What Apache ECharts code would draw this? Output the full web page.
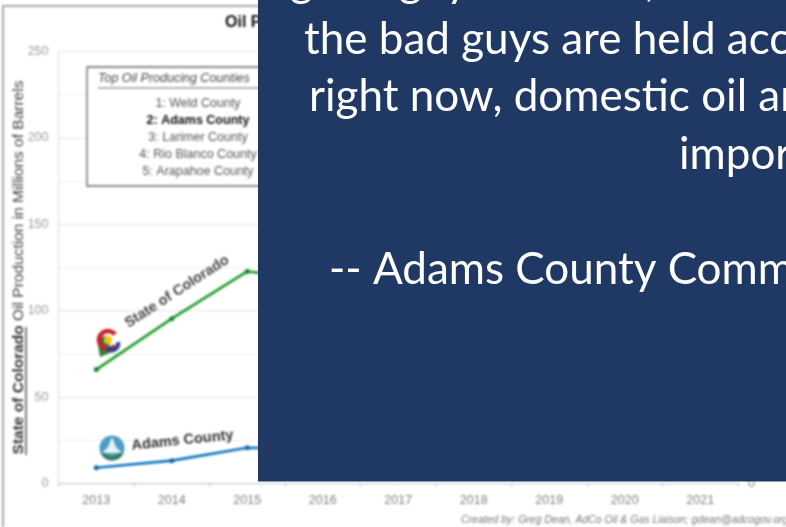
<!DOCTYPE html>
<html><head><meta charset="utf-8">
<style>html,body{margin:0;padding:0;background:#fff;overflow:hidden}
#c{position:absolute;left:0;top:0;width:786px;height:527px;filter:blur(0.85px)}
#p{position:absolute;left:0;top:0;width:786px;height:527px;filter:blur(0.45px)}</style>
<script src="https://cdn.jsdelivr.net/npm/echarts@6/dist/echarts.min.js"></script>
</head><body><div id="c"></div><div id="p"></div>
<script>
const years = ['2013','2014','2015','2016','2017','2018','2019','2020','2021'];
const colorado = [65.9, 95.4, 122.7, 118, null, null, null, null, null];
const adams = [9.1, 13.2, 20.7, 20, null, null, null, null, null];
const counties = ['1: Weld County','2: Adams County','3: Larimer County','4: Rio Blanco County','5: Arapahoe County'];
const quoteLines = [
  ['the bad guys are held accountable,', 304, 53],
  ['right now, domestic oil and gas', 309, 110],
  ['important', 679, 168],
  ['-- Adams County Commissioner', 329, 283]
];
const clippedGlyphs = [['g',290],['g',399],['y',446],[',',645]];
const creditLine = 'Created by: Greg Dean, AdCo Oil & Gas Liaison; gdean@adcogov.org';
const chart = echarts.init(document.getElementById('c'));
const overlay = echarts.init(document.getElementById('p'));
const F = 'Liberation Sans';
const panel = '#203864';
const Q = 'Lato';
const QS = 44;
const QB = 35;
const g = [
  {type:'rect',z:0,shape:{x:3,y:6,width:800,height:540},style:{fill:'#fff',stroke:'#a8a8a8',lineWidth:2}},
  {type:'text',z:5,style:{x:225,y:15,text:'Oil Production',font:'bold 16px '+F,fill:'#111'}},
  {type:'rect',z:6,shape:{x:87,y:67,width:230,height:119},style:{fill:'#fff',stroke:'#666',lineWidth:1.4}},
  {type:'text',z:7,style:{x:98,y:72,text:'Top Oil Producing Counties',font:'italic 12.5px '+F,fill:'#444'}},
  {type:'line',z:7,shape:{x1:98,y1:88,x2:300,y2:88},style:{stroke:'#666',lineWidth:1}},
  ...counties.map((t,i)=>({type:'text',z:7,style:{x:198,y:97+i*17,text:t,align:'center',
      font:(i==1?'bold ':'')+'12.5px '+F,fill:i==1?'#111':'#555'}})),
  {type:'line',z:7,shape:{x1:26,y1:455,x2:26,y2:327},style:{stroke:'#333',lineWidth:1.3}},
  // Colorado logo
  {type:'polygon',z:7,shape:{points:[[97,338],[106,336],[112,352],[100,357]]},style:{fill:'#2e7d3a'}},
  {type:'arc',z:8,shape:{cx:108,cy:340,r:9,startAngle:0.7,endAngle:5.6},style:{stroke:'#c8232c',fill:null,lineWidth:4.5}},
  {type:'circle',z:9,shape:{cx:108,cy:340,r:4},style:{fill:'#f4c20d'}},
  {type:'arc',z:9,shape:{cx:112,cy:344,r:6,startAngle:-0.3,endAngle:2.4},style:{stroke:'#26408f',fill:null,lineWidth:4.5}},
  // Adams logo
  {type:'circle',z:7,shape:{cx:112,cy:448,r:12.5},style:{fill:'#4a9cc7'}},
  {type:'arc',z:8,shape:{cx:112,cy:448,r:10.5,startAngle:0.45,endAngle:2.7},style:{stroke:'#2f7d5a',fill:null,lineWidth:4}},
  {type:'polygon',z:8,shape:{points:[[112,437],[116,447],[122,453],[102,453],[108,447]]},style:{fill:'#e8f1f4'}},
  {type:'text',z:7,style:{x:461,y:515,text:creditLine,font:'italic 10.5px '+F,fill:'#777'}}
];
chart.setOption({
  animation:false,
  backgroundColor:'#fff',
  grid:{left:58.5,right:48,top:51.5,bottom:43.5,containLabel:false,outerBoundsMode:'none'},
  xAxis:{type:'category',data:years,boundaryGap:true,
    axisLine:{lineStyle:{color:'#c0c0c0'}},axisTick:{show:true,length:3,lineStyle:{color:'#c0c0c0'}},
    axisLabel:{color:'#808080',fontFamily:F,fontSize:12.5,margin:11}},
  yAxis:[{type:'value',min:0,max:250,interval:50,
    name:'{b|State of Colorado} Oil Production in Millions of Barrels',nameLocation:'middle',nameGap:32,nameMoveOverlap:false,
    nameTextStyle:{color:'#444',fontFamily:F,fontSize:15.5,
      rich:{b:{fontWeight:'bold',color:'#333',fontSize:15.5,fontFamily:F}}},
    axisLine:{show:true,lineStyle:{color:'#ddd'}},axisTick:{length:4,lineStyle:{color:'#ddd'}},
    axisLabel:{color:'#999',fontFamily:F,fontSize:12.5,margin:10},
    splitLine:{lineStyle:{color:'#e2e2e2'}},
    minorTick:{show:false,splitNumber:2},minorSplitLine:{show:true,lineStyle:{color:'#eeeeee'}}},
   {type:'value',min:0,max:250,interval:50,position:'right',
    axisLine:{show:false},axisTick:{show:false},splitLine:{show:false},
    axisLabel:{color:'#808080',fontFamily:F,fontSize:12.5,margin:10}}],
  series:[
    {type:'line',name:'State of Colorado',data:colorado.map((v,i)=>i==1?{value:v,label:{show:true,formatter:'State of Colorado',rotate:33,offset:[15,-6],position:'top',color:'#444',fontFamily:F,fontSize:14.5,fontWeight:'bold'}}:v),
      connectNulls:false,symbol:'circle',symbolSize:5,lineStyle:{color:'#1f9a2a',width:2.7},itemStyle:{color:'#17852a'},z:3},
    {type:'line',name:'Adams County',data:adams.map((v,i)=>i==1?{value:v,label:{show:true,formatter:'Adams County',rotate:6,offset:[12,-4],position:'top',color:'#333',fontFamily:F,fontSize:14.5,fontWeight:'bold'}}:v),
      connectNulls:false,symbol:'circle',symbolSize:5,lineStyle:{color:'#0f76c0',width:2.7},itemStyle:{color:'#0f68ac'},z:3}
  ],
  graphic:{elements:g}
});
overlay.setOption({
  animation:false,
  graphic:{elements:[
    {type:'rect',z:50,shape:{x:258,y:0,width:528,height:481.5},style:{fill:panel}},
    ...clippedGlyphs.map(([t,x])=>({type:'text',z:51,style:{x:x,y:-5-QB,text:t,font:QS+'px '+Q,fill:'#fff'}})),
    ...quoteLines.map(([t,x,y])=>({type:'text',z:51,style:{x:x,y:y-QB,text:t,font:QS+'px '+Q,fill:'#fff'}}))
  ]}
});
</script></body></html>
